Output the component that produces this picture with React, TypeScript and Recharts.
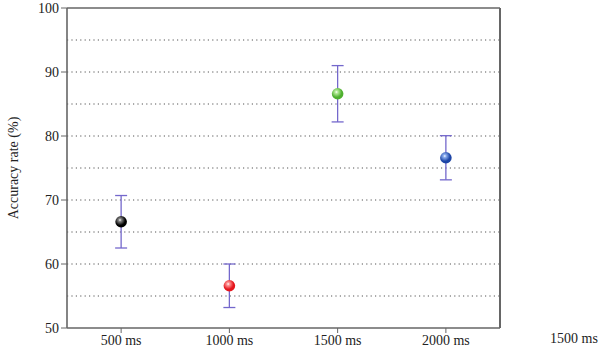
import { ComposedChart, Scatter, ErrorBar, XAxis, YAxis, ReferenceLine } from "recharts";

const categories = ["500 ms", "1000 ms", "1500 ms", "2000 ms"];
const accuracy = [66.6, 56.6, 86.6, 76.6];
const errors = [4.1, 3.4, 4.4, 3.45];
const ballColors = [
  ["#8a8a8a", "#000000"],
  ["#ff9a9a", "#e5161d"],
  ["#b8ec9c", "#4fb02f"],
  ["#8fb0f0", "#1d45a6"],
];
const yTicks = [50, 60, 70, 80, 90, 100];
const gridValues = [55, 60, 65, 70, 75, 80, 85, 90, 95];

const data = categories.map((name, i) => ({
  name,
  value: accuracy[i],
  err: errors[i],
  idx: i,
}));

const font = "'Liberation Serif', 'DejaVu Serif', serif";
const axisColor = "#666";

function Ball(props: any) {
  const { cx, cy, payload } = props;
  const [light, dark] = ballColors[payload.idx];
  const id = `ball-${payload.idx}`;
  return (
    <g>
      <defs>
        <radialGradient id={id} cx="40%" cy="35%" r="65%">
          <stop offset="0%" stopColor="#ffffff" />
          <stop offset="18%" stopColor={light} />
          <stop offset="70%" stopColor={dark} />
          <stop offset="100%" stopColor={dark} />
        </radialGradient>
      </defs>
      <circle cx={cx} cy={cy} r={5.8} fill={`url(#${id})`} />
    </g>
  );
}

export default function App() {
  return (
    <div style={{ position: "relative", width: 600, height: 355, fontFamily: font }}>
      <style>{`body{margin:0}`}</style>
      <ComposedChart
        width={600}
        height={355}
        data={data}
        margin={{ top: 8, right: 100, bottom: 0, left: 0 }}
      >
        {gridValues.map((v) => (
          <ReferenceLine
            key={v}
            y={v}
            stroke="#555"
            strokeDasharray="1.2 3.2"
            strokeWidth={1}
          />
        ))}
        <ReferenceLine y={100} stroke={axisColor} strokeWidth={1.6} />
        <XAxis
          dataKey="name"
          type="category"
          scale="band"
          axisLine={{ stroke: axisColor, strokeWidth: 1.6 }}
          tickLine={{ stroke: axisColor }}
          tickSize={5}
          height={27}
          tick={{ fill: "#222", fontSize: 14, fontFamily: font }}
        />
        <YAxis
          domain={[50, 100]}
          ticks={yTicks}
          width={67}
          axisLine={{ stroke: axisColor, strokeWidth: 1.6 }}
          tickLine={{ stroke: axisColor }}
          tickSize={6}
          tick={{ fill: "#222", fontSize: 14, fontFamily: font }}
          label={{
            value: "Accuracy rate (%)",
            angle: -90,
            position: "insideLeft",
            offset: 13,
            style: { textAnchor: "middle", fill: "#222", fontSize: 14, fontFamily: font },
          }}
        />
        <Scatter dataKey="value" isAnimationActive={false} shape={() => <g />}>
          <ErrorBar dataKey="err" width={6} stroke="#7468cc" strokeWidth={1.3} />
        </Scatter>
        <Scatter dataKey="value" isAnimationActive={false} shape={<Ball />} />
      </ComposedChart>
      <div
        style={{
          position: "absolute",
          left: 499.2,
          top: 8,
          width: 1.6,
          height: 320,
          background: axisColor,
        }}
      />
      <div
        style={{
          position: "absolute",
          left: 550,
          top: 331,
          fontSize: 14,
          color: "#222",
          whiteSpace: "nowrap",
        }}
      >
        1500 ms
      </div>
    </div>
  );
}
